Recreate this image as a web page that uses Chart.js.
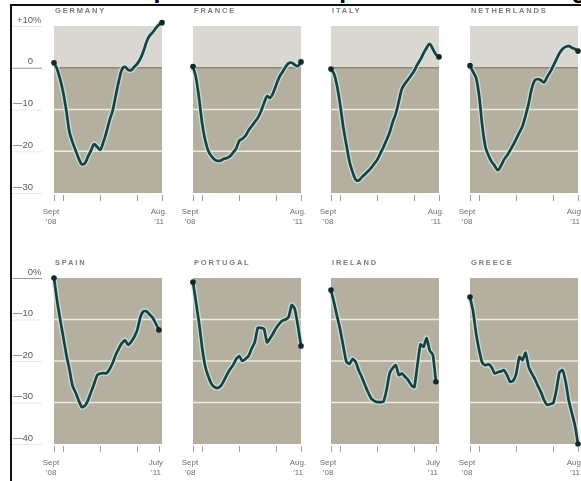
<!DOCTYPE html>
<html lang="en">
<head>
  <meta charset="UTF-8" />
  <title>Europe - change since Sept. 2008</title>
  <!-- Chart.js -->
  <script src="https://cdn.jsdelivr.net/npm/chart.js"></script>
  <style>
    body {
      margin: 0;
      padding: 0;
      width: 581px;
      height: 481px;
      overflow: hidden;
      position: relative;
      background: #fff;
      font-family: 'Liberation Sans', Arial, sans-serif;
    }
    /* clipped headline, only the descenders show */
    .headline {
      position: absolute;
      left: 36px;
      top: -22px;
      font-weight: bold;
      font-size: 24.6px;
      line-height: 24.6px;
      white-space: nowrap;
      color: #000;
    }
    .frame {
      position: absolute;
      left: 10px;
      top: 4px;
      right: -5px;
      bottom: -5px;
      border-top: 2px solid #111;
      border-left: 2px solid #111;
    }
    canvas { position: absolute; }
  </style>
</head>
<body>
  <div class="headline">Industrial production compared with earlier high</div>
  <div class="frame"></div>

  <script>
    // Monthly points, Sept '08 .. Aug '11
    const months = ["Sept '08", "Oct '08", "Nov '08", "Dec '08", "Jan '09", "Feb '09", "Mar '09", "Apr '09", "May '09",
      "June '09", "July '09", "Aug '09", "Sept '09", "Oct '09", "Nov '09", "Dec '09", "Jan '10", "Feb '10", "Mar '10",
      "Apr '10", "May '10", "June '10", "July '10", "Aug '10", "Sept '10", "Oct '10", "Nov '10", "Dec '10", "Jan '11",
      "Feb '11", "Mar '11", "Apr '11", "May '11", "June '11", "July '11", "Aug '11"];

    // percent change
    const germany = [1.2, -0.3, -2.8, -6, -10.3, -15.4, -17.8, -19.8, -21.7, -23.1, -22.9, -21.3, -19.8, -18.3, -19, -19.6,
      -17.8, -15.4, -12.6, -10.3, -6.7, -3.2, -0.4, 0.2, -0.5, -0.6, 0.2, 1, 2.2, 4, 6.2, 7.7, 8.5, 9.5, 10.3, 10.8];
    const france = [0.3, -2.5, -7.5, -13.5, -17.5, -20, -21.2, -22, -22.3, -22.2, -21.8, -21.6, -21.2, -20.3, -19.3, -17.5,
      -17, -16.3, -15, -14, -13, -12, -10.5, -8.5, -6.8, -7.2, -6, -4, -2.2, -1, 0.2, 1.1, 1.2, 0.7, 0.4, 1.4];
    const italy = [-0.3, -1.5, -4.5, -9, -14.3, -18.5, -22.5, -25, -26.8, -27, -26.2, -25.5, -24.8, -24, -23, -22, -20.5,
      -19, -17.3, -15.5, -13, -11, -8, -5, -3.8, -2.8, -1.8, -0.7, 0.8, 2, 3.5, 4.8, 5.7, 4.5, 3.2, 2.6];
    const netherlands = [0.5, -1, -2.5, -7, -14, -19, -21, -22.5, -23.5, -24.5, -23.5, -22, -21, -19.8, -18.5, -17, -15.5,
      -14, -11.5, -8.6, -5, -3, -2.7, -3, -3.5, -2.2, -1, 0.5, 2, 3.5, 4.5, 5, 5.2, 4.8, 4.5, 4];
    const spain = [0, -5.5, -10, -14.2, -18.5, -22, -26, -27.6, -29.5, -31.1, -30.8, -29.5, -27.5, -25.5, -23.4, -23,
      -22.9, -23, -22, -20.5, -18.5, -17, -15.7, -15, -16.1, -15.4, -14.2, -12.5, -9.4, -8, -8, -8.8, -9.6, -11, -12.5];
    const portugal = [-1, -6, -11, -17, -21.4, -23.8, -25.5, -26.3, -26.5, -26, -24.8, -23.3, -22, -21, -19.5, -18.8, -20,
      -19.5, -18.8, -17, -15.5, -12, -12, -12.2, -15.5, -14.5, -13.3, -12, -11, -10.3, -10, -9.4, -6.5, -7.5, -11.5, -16.4];
    const ireland = [-2.9, -6, -9.3, -12.5, -16.5, -20.2, -20.7, -19.5, -20.2, -22.3, -23.9, -25.8, -27.5, -29, -29.6,
      -29.9, -29.9, -29.8, -27, -23, -21.7, -21, -23.4, -23, -23.8, -24.6, -25.8, -26.3, -21, -16, -16.6, -14.5, -17.5,
      -18.5, -25];
    const greece = [-4.6, -8, -13.5, -17.5, -20.5, -21, -20.8, -21.5, -23, -22.7, -22.5, -22.2, -23.4, -25, -24.8, -23,
      -19, -19.8, -18, -21.4, -23, -24.3, -26, -27.5, -29.4, -30.6, -30.4, -30.1, -27, -22.7, -22.2, -25, -29.5, -32.5,
      -35.5, -40];

    // y axis per row
    const topTicks = [10, 0, -10, -20, -30];
    const bottomTicks = [0, -10, -20, -30, -40];
    // x tick marks (Decembers)
    const xTickMonths = ["Dec '08", "Dec '09", "Dec '10"];

    const panels = [
      { name: 'GERMANY', values: germany, end: 'Aug.' },
      { name: 'FRANCE', values: france, end: 'Aug.' },
      { name: 'ITALY', values: italy, end: 'Aug.' },
      { name: 'NETHERLANDS', values: netherlands, end: 'Aug.' },
      { name: 'SPAIN', values: spain, end: 'July' },
      { name: 'PORTUGAL', values: portugal, end: 'Aug.' },
      { name: 'IRELAND', values: ireland, end: 'July' },
      { name: 'GREECE', values: greece, end: 'Aug.' }
    ];

    // Layout
    const colLeft = [54, 193, 331, 470];
    const plotW = 108;
    const rows = [
      { top: 26, h: 167, min: -30, max: 10, ticks: topTicks, grid: [-10, -20], zero: true, tension: 0.35 },
      { top: 278, h: 166, min: -40, max: 0, ticks: bottomTicks, grid: [-10, -20, -30], zero: false, tension: 0.15 }
    ];
    const PAD = { left: 44, top: 26, right: 14, bottom: 40 };

    const LIGHT = '#dad7d1';
    const DARK = '#b5af9f';
    const GRID = '#efebdd';
    const ZERO = '#8f8878';
    const LINE = '#1b403e';
    const HALO = 'rgba(196,232,232,0.75)';
    const FONT = '"Liberation Sans", Arial, sans-serif';

    // Backgrounds, grid, labels for one small panel
    const decor = {
      id: 'decor',
      beforeDraw(chart, args, o) {
        const { ctx, chartArea: a } = chart;
        const y = chart.scales.y;
        const z = y.getPixelForValue(0);
        ctx.save();
        ctx.fillStyle = LIGHT;
        ctx.fillRect(a.left, a.top, a.width, z - a.top);
        ctx.fillStyle = DARK;
        ctx.fillRect(a.left, z, a.width, a.bottom - z);
        ctx.lineWidth = 1.6;
        ctx.strokeStyle = GRID;
        o.grid.forEach(v => {
          const py = y.getPixelForValue(v);
          ctx.beginPath(); ctx.moveTo(a.left, py); ctx.lineTo(a.right, py); ctx.stroke();
        });
        if (o.zero) {
          ctx.strokeStyle = ZERO;
          ctx.beginPath(); ctx.moveTo(a.left, z); ctx.lineTo(a.right, z); ctx.stroke();
        }
        ctx.restore();
      },
      afterDraw(chart, args, o) {
        const { ctx, chartArea: a } = chart;
        const x = chart.scales.x, y = chart.scales.y;
        const last = o.count - 1;
        ctx.save();

        // panel name
        ctx.font = 'bold 7.5px ' + FONT;
        ctx.letterSpacing = '1.8px';
        ctx.fillStyle = '#7c7c7c';
        ctx.textAlign = 'left';
        ctx.textBaseline = 'middle';
        ctx.fillText(o.name, a.left + 1, a.top - 15);
        ctx.letterSpacing = '0px';

        // x tick marks
        ctx.strokeStyle = '#a0a0a0';
        ctx.lineWidth = 1;
        const tickIdx = [0].concat(xTickMonths.map(m => months.indexOf(m)), [last]);
        tickIdx.forEach(i => {
          const px = Math.round(x.getPixelForValue(i)) + 0.5;
          ctx.beginPath(); ctx.moveTo(px, a.bottom + 2); ctx.lineTo(px, a.bottom + 8); ctx.stroke();
        });

        // x end labels
        ctx.font = '8px ' + FONT;
        ctx.fillStyle = '#6e6e6e';
        ctx.textAlign = 'center';
        const sx = x.getPixelForValue(0) - 3;
        const ex = x.getPixelForValue(last) - 3;
        ctx.fillText('Sept', sx, a.bottom + 18.5);
        ctx.fillText('\u201908', sx, a.bottom + 28.5);
        ctx.fillText(o.end, ex, a.bottom + 18.5);
        ctx.fillText('\u201911', ex, a.bottom + 28.5);

        // y labels, first column only
        if (o.yLabels) {
          ctx.font = '9.5px ' + FONT;
          ctx.fillStyle = '#5a5a5a';
          const rx = a.left - 21;
          o.ticks.forEach((v, i) => {
            const py = y.getPixelForValue(v);
            ctx.strokeStyle = v === 0 ? '#999' : '#eceae4';
            ctx.lineWidth = 1;
            ctx.beginPath(); ctx.moveTo(a.left - 42, py + 0.5); ctx.lineTo(a.left - 12, py + 0.5); ctx.stroke();
            const txt = v > 0 ? '+' + v : v < 0 ? '\u2014' + (-v) : '0';
            ctx.textAlign = 'right';
            ctx.fillText(txt, rx, py - 6);
            if (i === 0) {
              ctx.textAlign = 'left';
              ctx.fillText('%', rx, py - 6);
            }
          });
        }
        ctx.restore();
      }
    };

    panels.forEach((p, k) => {
      const row = rows[Math.floor(k / 4)];
      const col = k % 4;
      const canvas = document.createElement('canvas');
      canvas.width = PAD.left + plotW + PAD.right;
      canvas.height = PAD.top + row.h + PAD.bottom;
      canvas.style.left = (colLeft[col] - PAD.left) + 'px';
      canvas.style.top = (row.top - PAD.top) + 'px';
      document.body.appendChild(canvas);

      const n = p.values.length;
      new Chart(canvas, {
        type: 'line',
        data: {
          labels: months,
          datasets: [
            {
              data: p.values,
              borderColor: LINE,
              borderWidth: 2.7,
              tension: row.tension,
              pointRadius: c => (c.dataIndex === 0 || c.dataIndex === n - 1) ? 2.8 : 0,
              pointBackgroundColor: '#152827',
              pointBorderWidth: 0,
              clip: false
            },
            {
              data: p.values,
              borderColor: HALO,
              borderWidth: 5.5,
              tension: row.tension,
              pointRadius: 0,
              clip: false
            }
          ]
        },
        options: {
          responsive: false,
          animation: false,
          events: [],
          layout: { padding: PAD },
          scales: {
            x: { display: false },
            y: { display: false, min: row.min, max: row.max }
          },
          plugins: {
            legend: { display: false },
            tooltip: { enabled: false },
            decor: {
              name: p.name,
              end: p.end,
              count: n,
              grid: row.grid,
              zero: row.zero,
              ticks: row.ticks,
              yLabels: col === 0
            }
          }
        },
        plugins: [decor]
      });
    });
  </script>
</body>
</html>
